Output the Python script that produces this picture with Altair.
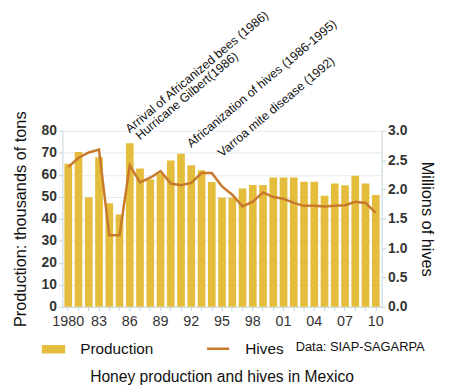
import altair as alt
import pandas as pd

years = list(range(1980, 2011))
production = [65.0, 70.3, 49.8, 68.0, 47.1, 41.9, 74.3, 62.8, 57.8, 60.5,
              66.5, 69.5, 64.3, 62.0, 56.7, 49.6, 49.6, 53.8, 55.3, 55.3,
              58.7, 58.7, 58.7, 56.8, 56.8, 50.5, 56.0, 55.2, 59.5, 56.0, 50.8]
hives = [2.38, 2.54, 2.63, 2.68, 1.22, 1.22, 2.41, 2.12, 2.20, 2.31,
         2.10, 2.07, 2.11, 2.28, 2.28, 2.05, 1.91, 1.71, 1.79, 1.95,
         1.87, 1.84, 1.77, 1.72, 1.72, 1.71, 1.72, 1.73, 1.79, 1.77, 1.60]

ann_labels = ["Arrival of Africanized bees (1986)", "Hurricane Gilbert(1986)",
              "Africanization of hives (1986-1995)", "Varroa mite disease (1992)"]
ann_years = [1986, 1987, 1992, 1995]
ann_levels = [78.8, 75.6, 72.2, 67.9]

FONT = "Liberation Sans"
BAR = "#E5BD3C"
LINE = "#C77A2B"

df = pd.DataFrame({"year": years, "production": production, "hives": hives,
                   "s1": "Production", "s2": "Hives"})
ann = pd.DataFrame({"year": ann_years, "label": ann_labels, "level": ann_levels})

x = alt.X("year:O", title=None,
          scale=alt.Scale(paddingInner=0.25, paddingOuter=0.2),
          axis=alt.Axis(labelAngle=0, labelOverlap=False,
                        labelExpr="datum.value == 1980 ? '1980' : ((datum.value - 1980) % 3 == 0 ? substring('' + datum.value, 2, 4) : '')",
                        labelFontSize=14.5, labelColor="#333333", labelPadding=4,
                        tickSize=4, tickColor="#c4d4dc", domainColor="#c4d4dc"))

bars = alt.Chart(df).mark_bar(color=BAR).encode(
    x=x,
    y=alt.Y("production:Q", title="Production: thousands of tons",
            scale=alt.Scale(domain=[0, 80]),
            axis=alt.Axis(values=list(range(0, 81, 10)), labelFontSize=14,
                          labelFontWeight="bold", labelColor="#333333",
                          titleFontSize=16.5, titleFontWeight="normal", titleColor="#111111",
                          titlePadding=13, grid=True, gridColor="#e3eaee",
                          tickSize=4, tickColor="#c4d4dc", domainColor="#c4d4dc")),
    fill=alt.Fill("s1:N", scale=alt.Scale(domain=["Production"], range=[BAR]),
                  legend=alt.Legend(title=None, orient="none", legendX=-22, legendY=208,
                                    symbolType="M-1,-0.36H1V0.36H-1Z", symbolSize=560,
                                    labelFontSize=15.5, labelColor="#111111", labelOffset=14,
                                    padding=0)),
)

line = alt.Chart(df).mark_line(strokeWidth=2.5).encode(
    x=x,
    y=alt.Y("hives:Q", title="Millions of hives",
            scale=alt.Scale(domain=[0, 3]),
            axis=alt.Axis(orient="right", values=[0, 0.5, 1, 1.5, 2, 2.5, 3], format=".1f",
                          labelFontSize=14, labelFontWeight="bold", labelColor="#333333",
                          titleFontSize=16.5, titleFontWeight="normal", titleColor="#111111",
                          titleAngle=90, titlePadding=12, grid=False,
                          tickSize=4, tickColor="#c4d4dc", domainColor="#c4d4dc")),
    stroke=alt.Stroke("s2:N", scale=alt.Scale(domain=["Hives"], range=[LINE]),
                      legend=alt.Legend(title=None, orient="none", legendX=145, legendY=208,
                                        symbolType="stroke", symbolSize=500,
                                        symbolStrokeWidth=2.5,
                                        labelFontSize=15.5, labelColor="#111111", labelOffset=15,
                                        padding=0)),
)

texts = alt.Chart(ann).mark_text(align="left", baseline="alphabetic", angle=320,
                                 fontSize=12.5, color="#111111", font=FONT).encode(
    x=x,
    y=alt.Y("level:Q", scale=alt.Scale(domain=[0, 80]), axis=None),
    text="label:N",
)

source = alt.Chart(pd.DataFrame({"t": ["Data: SIAP-SAGARPA"]})).mark_text(
    align="left", baseline="middle", fontSize=13, color="#111111", font=FONT
).encode(x=alt.value(236), y=alt.value(219), text="t:N")

chart = alt.layer(bars, line, texts, source).resolve_scale(
    y="independent", fill="independent", stroke="independent"
).properties(
    width=323, height=178,
    autosize=alt.AutoSizeParams(type="none"),
    padding={"left": 55, "top": 122, "right": 60, "bottom": 78},
    title=alt.TitleParams("Honey production and hives in Mexico", orient="bottom",
                          offset=12, fontSize=15.8, fontWeight="normal", color="#111111",
                          font=FONT)
).configure(font=FONT).configure_view(stroke=None)

chart.save("out.html", embed_options={"renderer": "svg", "actions": False})
